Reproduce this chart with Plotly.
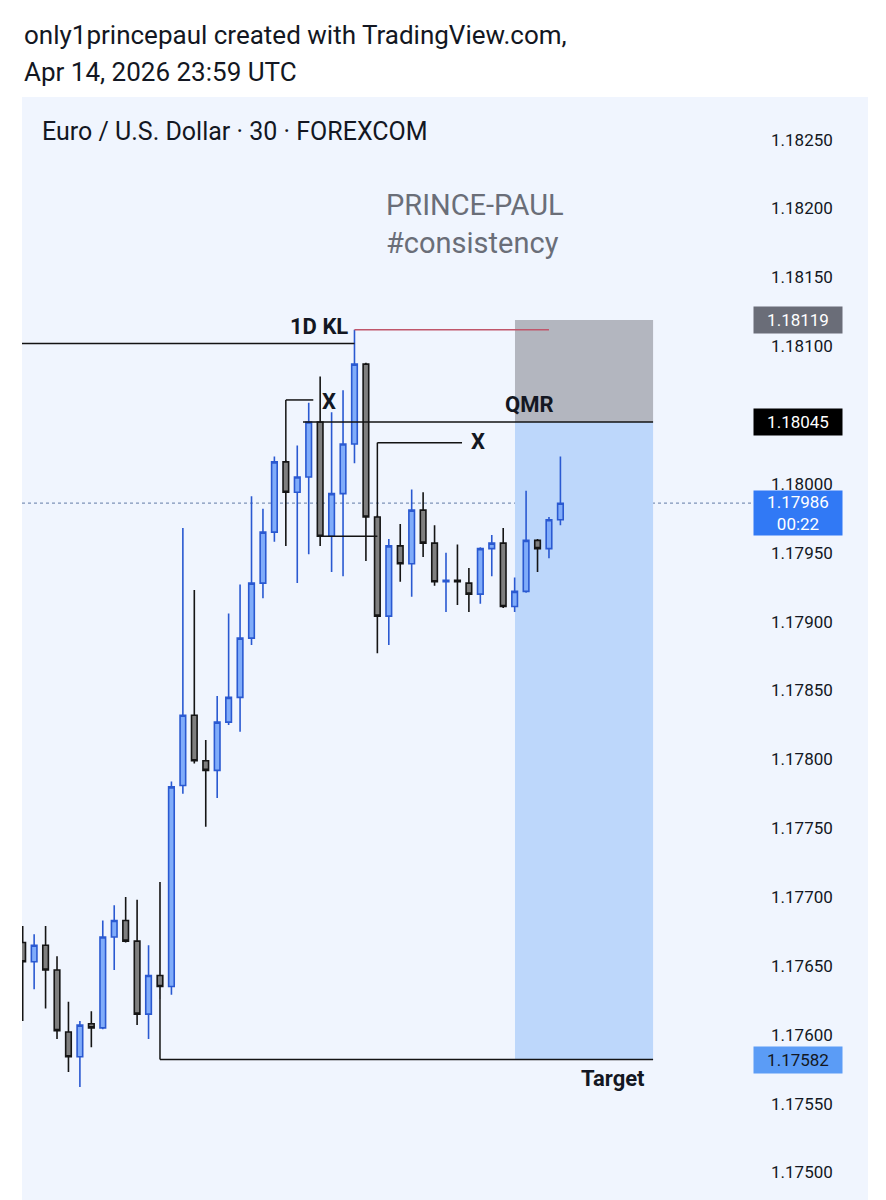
import plotly.graph_objects as go

# ---- data (EUR/USD 30m) ----
OPEN = [1.17667,1.17653,1.17665,1.17647,1.17602,1.17584,1.17608,1.17605,1.17671,1.17683,1.17668,1.17615,
        1.17643,1.17635,1.17781,1.17832,1.17799,1.17792,1.17827,1.17845,1.17888,1.17928,1.17965,1.18016,
        1.17994,1.18005,1.18045,1.17962,1.17993,1.18029,1.18087,1.17976,1.17904,1.17955,1.17942,1.17981,
        1.17957,1.17929,1.17930,1.17928,1.17920,1.17953,1.17957,1.17911,1.17922,1.17959,1.17953,1.17974]
HIGH = [1.17679,1.17673,1.17679,1.17657,1.17624,1.17610,1.17617,1.17683,1.17694,1.17700,1.17698,1.17665,
        1.17711,1.17784,1.17968,1.17923,1.17814,1.17846,1.17906,1.17927,1.17991,1.17982,1.18020,1.18017,
        1.18028,1.18059,1.18078,1.18052,1.18068,1.18112,1.18088,1.17977,1.17960,1.17971,1.17996,1.17994,
        1.17970,1.17950,1.17956,1.17939,1.17954,1.17963,1.17968,1.17932,1.17995,1.17960,1.17976,1.18020]
LOW = [1.17610,1.17633,1.17619,1.17597,1.17573,1.17562,1.17591,1.17604,1.17647,1.17667,1.17607,1.17597,
       1.17626,1.17629,1.17775,1.17797,1.17751,1.17772,1.17825,1.17820,1.17883,1.17917,1.17958,1.17955,
       1.17928,1.17949,1.17955,1.17936,1.17933,1.18015,1.17944,1.17877,1.17883,1.17929,1.17918,1.17947,
       1.17926,1.17907,1.17912,1.17907,1.17913,1.17933,1.17910,1.17907,1.17921,1.17936,1.17946,1.17970]
CLOSE = [1.17653,1.17665,1.17647,1.17603,1.17584,1.17607,1.17605,1.17671,1.17683,1.17668,1.17615,1.17643,
         1.17635,1.17780,1.17832,1.17799,1.17792,1.17827,1.17845,1.17888,1.17928,1.17965,1.18016,1.17994,
         1.18005,1.18045,1.17962,1.17993,1.18029,1.18087,1.17976,1.17904,1.17955,1.17942,1.17981,1.17957,
         1.17929,1.17930,1.17929,1.17920,1.17953,1.17957,1.17911,1.17922,1.17959,1.17953,1.17974,1.17986]
BARS = list(range(len(OPEN)))

TICKS = [1.17500,1.17550,1.17600,1.17650,1.17700,1.17750,1.17800,1.17850,
         1.17900,1.17950,1.18000,1.18050,1.18100,1.18150,1.18200,1.18250]
TICK_TEXT = ["%.5f" % t for t in TICKS]

# drawing levels
STOP = 1.18119
ENTRY = 1.18045
TARGET = 1.17582
LAST = 1.17986
KL_LEVEL = 1.18102
KL_HIGH = 1.18112
X1_LEVEL = 1.18061
X2_LEVEL = 1.18030
MID_LEVEL = 1.17962

FONT = "Roboto, Arial, sans-serif"
PANEL = "#f0f5fe"
TXT = "#131722"

W, H = 886, 1200
L_M, R_M, T_M, B_M = 22, 120, 97, 0
PW = W - L_M - R_M
PH = H - T_M - B_M

def px_x(px):
    return (px - L_M) / PW

def px_y(py):
    return 1 - (py - T_M) / PH

fig = go.Figure()
fig.add_trace(go.Candlestick(
    x=BARS, open=OPEN, high=HIGH, low=LOW, close=CLOSE,
    increasing=dict(fillcolor="#80acfa", line=dict(color="#2a59d1", width=1.6)),
    decreasing=dict(fillcolor="#7f7f7f", line=dict(color="#151515", width=1.6)),
    hoverinfo="skip", showlegend=False,
))

shapes = []
# panel background
shapes.append(dict(type="rect", xref="paper", yref="paper", x0=0, x1=px_x(868), y0=0, y1=1,
                   fillcolor=PANEL, line=dict(width=0), layer="below"))
# position tool
X_POS0, X_POS1 = 43.03, 55.1
shapes.append(dict(type="rect", xref="x", yref="y", x0=X_POS0, x1=X_POS1, y0=ENTRY, y1=STOP,
                   fillcolor="#b3b6bf", line=dict(width=0), layer="below"))
shapes.append(dict(type="rect", xref="x", yref="y", x0=X_POS0, x1=X_POS1, y0=TARGET, y1=ENTRY,
                   fillcolor="#bdd7fb", line=dict(width=0), layer="below"))
# last price dotted line
shapes.append(dict(type="line", xref="paper", yref="y", x0=0, x1=1, y0=LAST, y1=LAST,
                   line=dict(color="#7d93b8", width=1.2, dash="dot"), layer="below"))
# 1D KL level
shapes.append(dict(type="line", xref="x", yref="y", x0=-1, x1=29, y0=KL_LEVEL, y1=KL_LEVEL,
                   line=dict(color="#131313", width=1.5)))
shapes.append(dict(type="line", xref="x", yref="y", x0=29, x1=46.0, y0=KL_HIGH, y1=KL_HIGH,
                   line=dict(color="#c0566b", width=1.5)))
# QMR line
shapes.append(dict(type="line", xref="x", yref="y", x0=24.5, x1=X_POS1, y0=ENTRY, y1=ENTRY,
                   line=dict(color="#131313", width=1.5)))
# X drawing 1
shapes.append(dict(type="line", xref="x", yref="y", x0=23, x1=23, y0=OPEN[23], y1=X1_LEVEL,
                   line=dict(color="#131313", width=1.5)))
shapes.append(dict(type="line", xref="x", yref="y", x0=23, x1=25.4, y0=X1_LEVEL, y1=X1_LEVEL,
                   line=dict(color="#131313", width=1.5)))
# X drawing 2
shapes.append(dict(type="line", xref="x", yref="y", x0=31, x1=31, y0=OPEN[31], y1=X2_LEVEL,
                   line=dict(color="#131313", width=1.5)))
shapes.append(dict(type="line", xref="x", yref="y", x0=31, x1=38.4, y0=X2_LEVEL, y1=X2_LEVEL,
                   line=dict(color="#131313", width=1.5)))
# mid connector
shapes.append(dict(type="line", xref="x", yref="y", x0=26, x1=31, y0=MID_LEVEL, y1=MID_LEVEL,
                   line=dict(color="#131313", width=1.5)))
# target line
shapes.append(dict(type="line", xref="x", yref="y", x0=12, x1=12, y0=LOW[12], y1=TARGET,
                   line=dict(color="#131313", width=1.5)))
shapes.append(dict(type="line", xref="x", yref="y", x0=12, x1=X_POS1, y0=TARGET, y1=TARGET,
                   line=dict(color="#131313", width=1.5)))

ann = []
# header
ann.append(dict(text="only1princepaul created with TradingView.com,", xref="paper", yref="paper",
                x=px_x(22), y=px_y(35), xanchor="left", yanchor="middle", showarrow=False,
                font=dict(family=FONT, size=26, color=TXT)))
ann.append(dict(text="Apr 14, 2026 23:59 UTC", xref="paper", yref="paper",
                x=px_x(22), y=px_y(72), xanchor="left", yanchor="middle", showarrow=False,
                font=dict(family=FONT, size=26, color=TXT)))
ann.append(dict(text="Euro / U.S. Dollar · 30 · FOREXCOM", xref="paper", yref="paper",
                x=px_x(40), y=px_y(131), xanchor="left", yanchor="middle", showarrow=False,
                font=dict(family=FONT, size=25, color=TXT)))
# watermark
ann.append(dict(text="PRINCE-PAUL<br>#consistency", xref="paper", yref="paper",
                x=px_x(384), y=px_y(224), xanchor="left", yanchor="middle", showarrow=False, align="left",
                font=dict(family=FONT, size=29, color="#6a6e78")))
# drawing labels
def lbl(text, x, y, size=22):
    ann.append(dict(text="<b>%s</b>" % text, xref="x", yref="y", x=x, y=y, showarrow=False,
                    xanchor="center", yanchor="middle", font=dict(family=FONT, size=size, color=TXT)))
lbl("1D KL", 25.9, 1.18114)
lbl("X", 26.8, 1.18060)
lbl("X", 39.8, 1.18031)
lbl("QMR", 44.3, 1.18058)
lbl("Target", 51.6, 1.17568)

# price scale labels
def plabel(text, y, bg, fg, pad=3):
    ann.append(dict(text=text, xref="paper", yref="y", x=px_x(798), y=y, showarrow=False,
                    xanchor="center", yanchor="middle", width=88 - 2 * pad, bgcolor=bg, borderpad=pad,
                    font=dict(family=FONT, size=17, color=fg)))
plabel("%.5f" % STOP, STOP, "#6a6d78", "#ffffff")
plabel("%.5f" % ENTRY, ENTRY, "#000000", "#ffffff")
plabel("%.5f<br>00:22" % LAST, LAST - 0.00007, "#3179f5", "#ffffff", pad=1)
plabel("%.5f" % TARGET, TARGET, "#5b9cf6", TXT)

fig.update_layout(
    width=W, height=H,
    margin=dict(l=L_M, r=R_M, t=T_M, b=B_M),
    paper_bgcolor="#ffffff", plot_bgcolor=PANEL,
    shapes=shapes, annotations=ann,
    showlegend=False,
    font=dict(family=FONT, color=TXT),
    xaxis=dict(range=[-0.061, 64.97], visible=False, rangeslider=dict(visible=False), fixedrange=True),
    yaxis=dict(range=[1.17480, 1.18281], side="right", tickvals=TICKS, ticktext=TICK_TEXT,
               showgrid=False, zeroline=False, showline=False, ticks="", ticklabelstandoff=4,
               tickfont=dict(family=FONT, size=17, color=TXT), fixedrange=True),
)

fig.write_html("out.html")
